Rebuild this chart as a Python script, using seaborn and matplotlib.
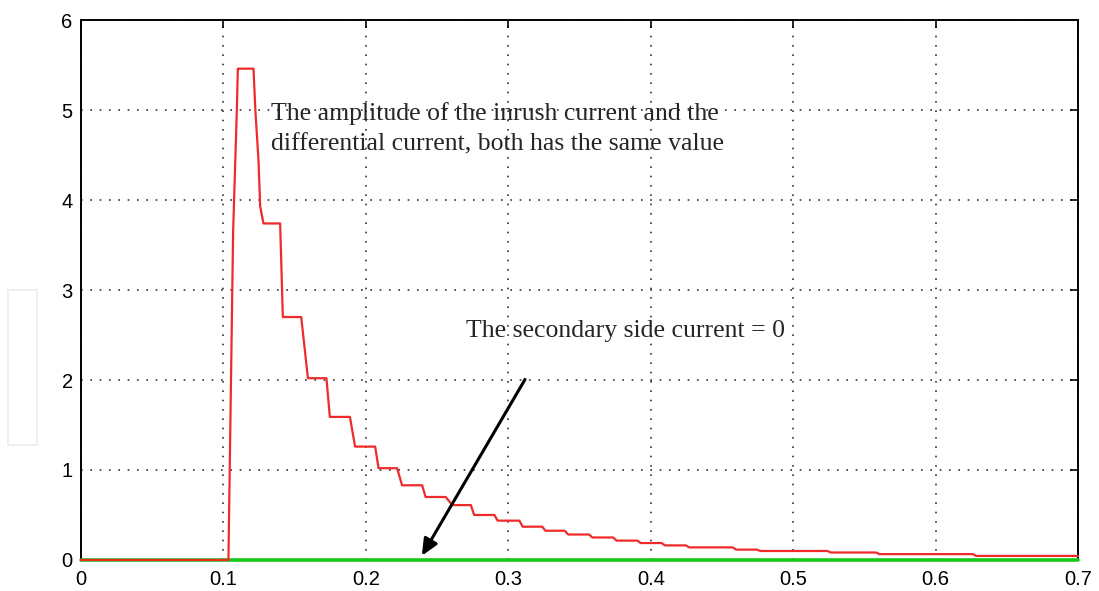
import numpy as np
import pandas as pd
import matplotlib
matplotlib.use("Agg")
import matplotlib.pyplot as plt
import seaborn as sns

# inrush current staircase
rise_t = [0.0, 0.1035, 0.1068, 0.1094]
rise_i = [0.0, 0.0, 3.65, 5.0]
step_start = [0.1101, 0.1281, 0.1417, 0.1593, 0.1747, 0.1924, 0.2089, 0.2254,
              0.2419, 0.2607, 0.2760, 0.2925, 0.3100, 0.3260, 0.3420, 0.3590,
              0.3760, 0.3930, 0.4100, 0.4270, 0.4600, 0.4770, 0.5265, 0.5605,
              0.6285]
step_end = [0.1211, 0.1398, 0.1546, 0.1723, 0.1888, 0.2065, 0.2219, 0.2395,
            0.2560, 0.2737, 0.2902, 0.3078, 0.3238, 0.3396, 0.3566, 0.3736,
            0.3906, 0.4076, 0.4246, 0.4574, 0.4744, 0.5240, 0.5582, 0.6260,
            0.7000]
step_level = [5.46, 3.74, 2.70, 2.02, 1.59, 1.26, 1.02, 0.83, 0.70, 0.61,
              0.50, 0.437, 0.37, 0.325, 0.283, 0.25, 0.215, 0.188, 0.162,
              0.14, 0.115, 0.10, 0.083, 0.065, 0.045]
# the fall from the peak down to the 3.74 step
fall_t = [0.1224, 0.1246, 0.1258]
fall_i = [5.0, 4.44, 3.93]

# secondary side current
sec_t = [0.0, 0.7]
sec_i = [0.0, 0.0]

x_ticks = [0, 0.1, 0.2, 0.3, 0.4, 0.5, 0.6, 0.7]
x_labels = ["0", "0.1", "0.2", "0.3", "0.4", "0.5", "0.6", "0.7"]
y_ticks = [0, 1, 2, 3, 4, 5, 6]

note1 = "The amplitude of the inrush current and the\ndifferential current, both has the same value"
note2 = "The secondary side current = 0"

t_red = list(rise_t)
i_red = list(rise_i)
for k, (s, e, v) in enumerate(zip(step_start, step_end, step_level)):
    t_red += [s, e]
    i_red += [v, v]
    if k == 0:
        t_red += fall_t
        i_red += fall_i
red = pd.DataFrame({"t": t_red, "i": i_red})
green = pd.DataFrame({"t": sec_t, "i": sec_i})

sns.set_style("white")
plt.rcParams["font.family"] = ["Liberation Sans", "DejaVu Sans"]

fig = plt.figure(figsize=(10.99, 5.91), dpi=100)
ax = fig.add_axes([0.0737, 0.0525, 0.9073, 0.9135])

sns.lineplot(data=green, x="t", y="i", ax=ax, color="#18c818", lw=2.6, sort=False,
             zorder=3, clip_on=False)
sns.lineplot(data=red, x="t", y="i", ax=ax, color="#f02a2a", lw=1.6, sort=False,
             zorder=3.5, clip_on=False)

ax.set_xlim(0, 0.7)
ax.set_ylim(0, 6)
ax.set_xticks(x_ticks)
ax.set_xticklabels(x_labels)
ax.set_yticks(y_ticks)
ax.set_xlabel("")
ax.set_ylabel("")
ax.grid(True, color="#333333", linestyle=(0, (1, 4.6)), lw=1.2)
ax.tick_params(direction="in", length=6, width=1.2, top=True, right=True,
               labelsize=14.5, colors="black")
ax.tick_params(axis="x", pad=7)
ax.tick_params(axis="y", pad=6)
for sp in ax.spines.values():
    sp.set_color("black")
    sp.set_linewidth(1.4)

ax.text(0.1335, 5.095, note1, family=["Liberation Serif", "DejaVu Serif"],
        fontsize=18.5, linespacing=1.5, va="top", ha="left")
ax.text(0.2705, 2.42, note2, family=["Liberation Serif", "DejaVu Serif"],
        fontsize=18.5, va="bottom", ha="left")
ax.annotate("", xy=(0.2383, 0.02), xytext=(0.3127, 2.033),
            arrowprops=dict(arrowstyle="-|>,head_length=1.0,head_width=0.45",
                            color="black", lw=2.2), zorder=4)

# faint empty box at the left edge of the original image
fig.patches.append(plt.Rectangle((8 / 1099, 1 - 445 / 591), 29 / 1099, 155 / 591,
                                 transform=fig.transFigure, fill=False,
                                 edgecolor="#ececec", lw=1.2))

fig.savefig("out.png", dpi=100)
